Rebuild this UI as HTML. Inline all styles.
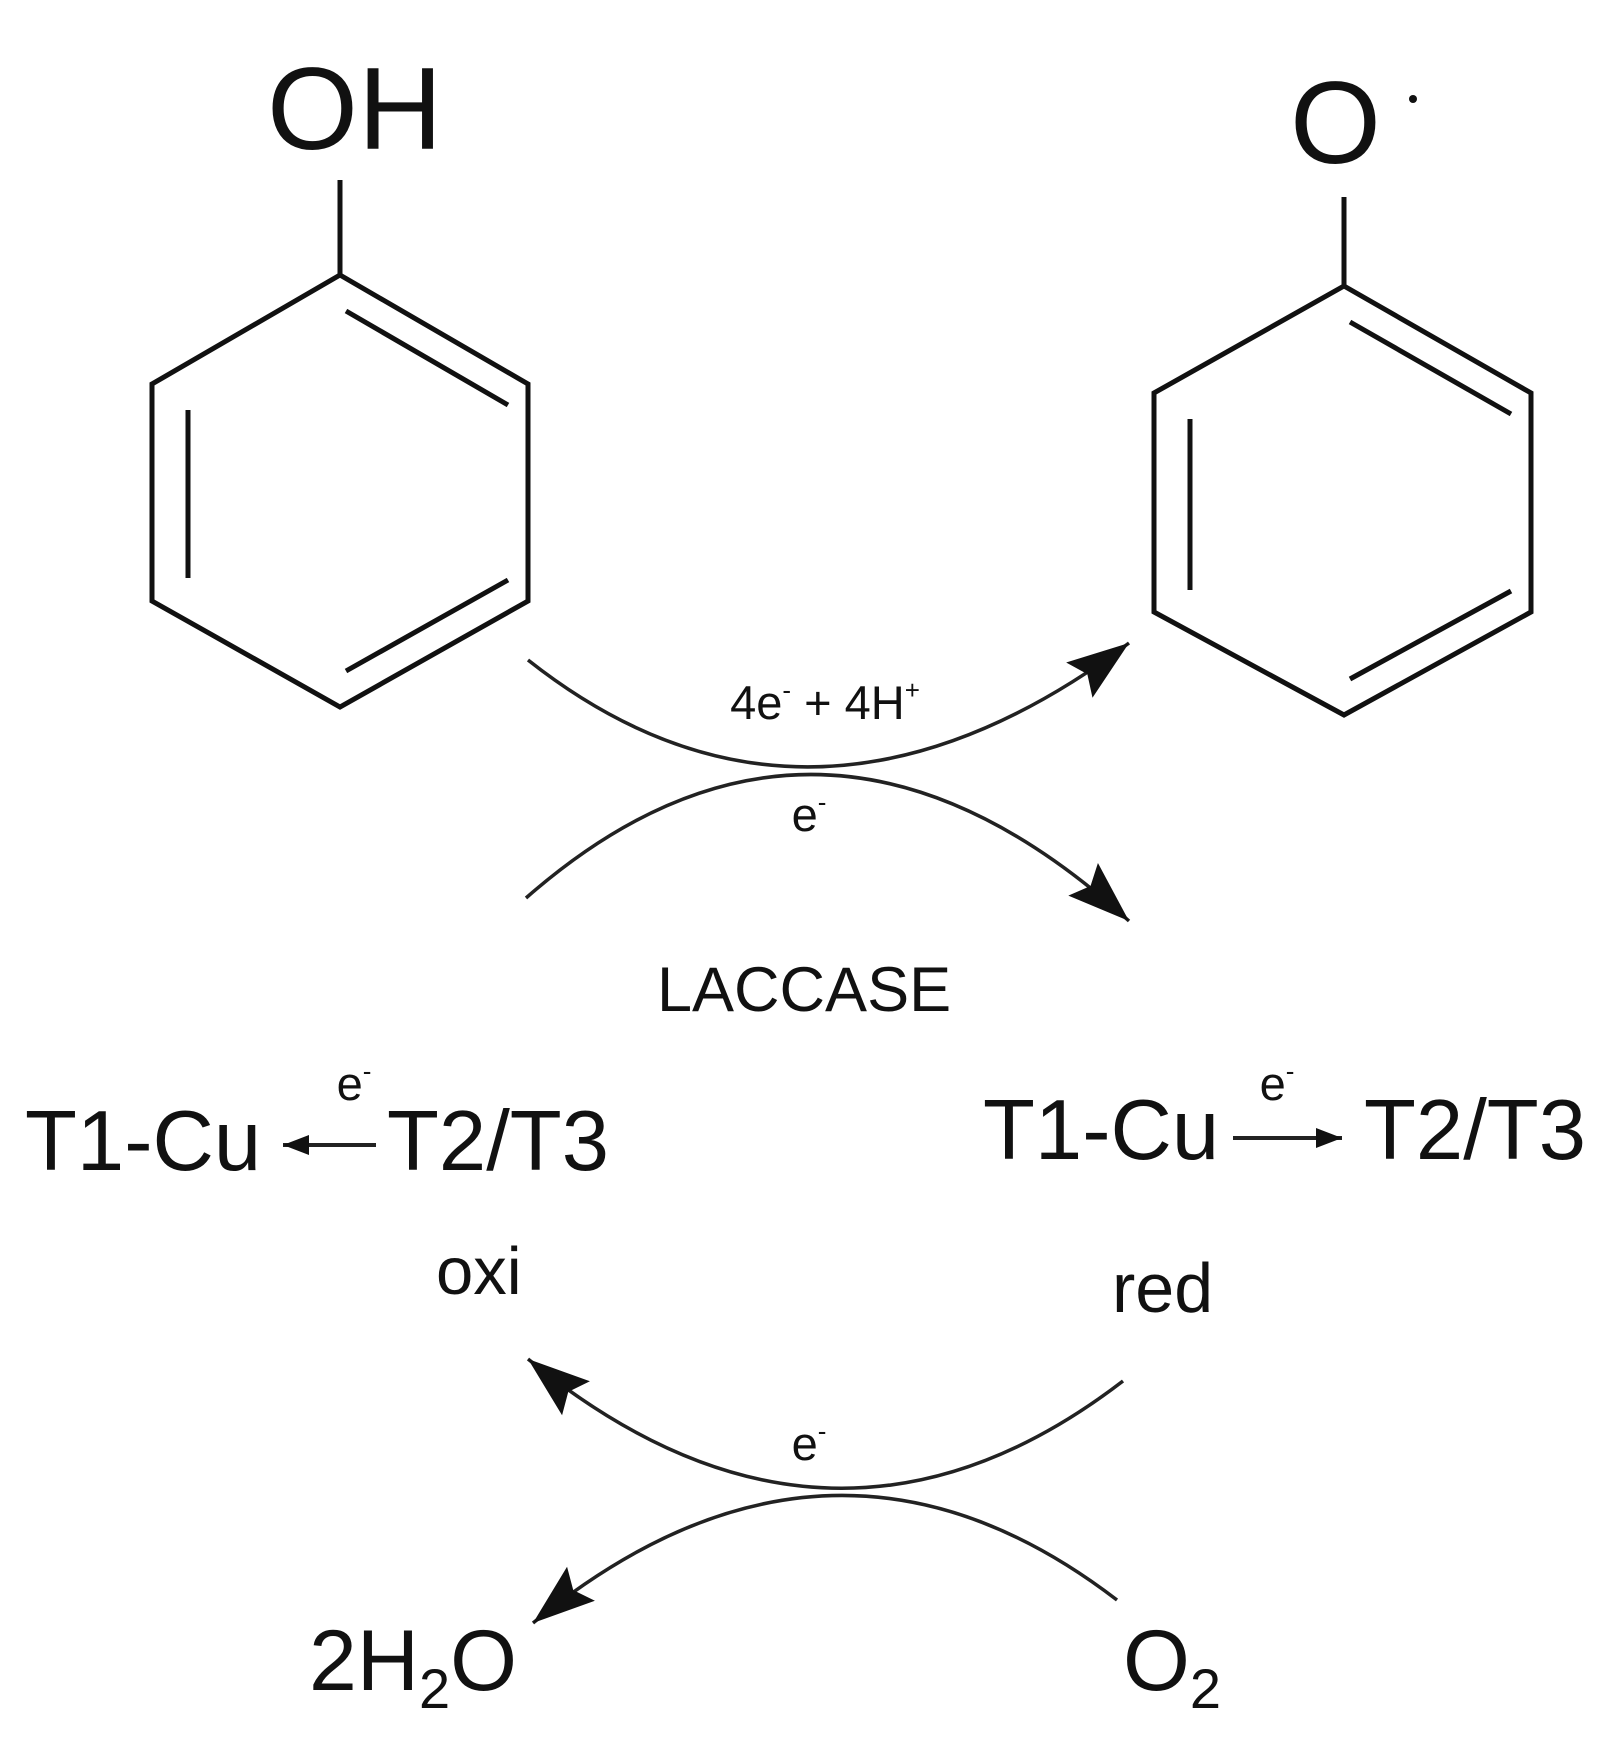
<!DOCTYPE html>
<html><head><meta charset="utf-8"><style>
html,body{margin:0;padding:0;background:#fff;}
svg{display:block;}
text{font-family:"Liberation Sans",Arial,sans-serif;fill:#111;}
</style></head><body>
<svg width="1617" height="1757" viewBox="0 0 1617 1757" xmlns="http://www.w3.org/2000/svg">
<defs>
<marker id="ah" markerUnits="userSpaceOnUse" markerWidth="80" markerHeight="60" refX="0" refY="0" viewBox="-70 -30 80 60" orient="auto">
<path d="M0,0 L-62,-22 L-52,0 L-62,22 Z" fill="#111"/>
</marker>
<marker id="sa" markerUnits="userSpaceOnUse" markerWidth="40" markerHeight="30" refX="0" refY="0" viewBox="-30 -15 40 30" orient="auto">
<path d="M0,0 L-26,-10 L-26,10 Z" fill="#111"/>
</marker>
</defs>
<g stroke="#111" stroke-width="5" fill="none" stroke-linejoin="miter">
<polygon points="340,275 528,384 528,601 340,707 152,601 152,384"/>
<line x1="340" y1="275" x2="340" y2="180"/>
<line x1="346" y1="311" x2="508" y2="405"/>
<line x1="188" y1="410" x2="188" y2="578"/>
<line x1="346" y1="671" x2="508" y2="580"/>
<polygon points="1344,286 1531,393 1531,612 1344,715 1154,612 1154,393"/>
<line x1="1344" y1="286" x2="1344" y2="197"/>
<line x1="1350" y1="322" x2="1511" y2="414"/>
<line x1="1190" y1="419" x2="1190" y2="590"/>
<line x1="1350" y1="679" x2="1511" y2="591"/>
</g>
<g stroke="#222" stroke-width="3.5" fill="none">
<path d="M528,660 Q809,882 1129,643" marker-end="url(#ah)"/>
<path d="M526,898 Q820,640 1129,921" marker-end="url(#ah)"/>
<path d="M1123,1381 Q830,1606 528,1359" marker-end="url(#ah)"/>
<path d="M1117,1600 Q830,1380 533,1623" marker-end="url(#ah)"/>
<line x1="376" y1="1145" x2="283" y2="1145" stroke-width="4" marker-end="url(#sa)"/>
<line x1="1233" y1="1138" x2="1342" y2="1138" stroke-width="4" marker-end="url(#sa)"/>
</g>
<text x="267" y="149" font-size="117">OH</text>
<text x="1290" y="163" font-size="117">O</text>
<circle cx="1413" cy="99" r="4" fill="#111"/>
<text x="825" y="719" font-size="47" text-anchor="middle">4e<tspan font-size="26" dy="-20">-</tspan><tspan dy="20"> + 4H</tspan><tspan font-size="26" dy="-20">+</tspan></text>
<text x="809" y="831" font-size="47" text-anchor="middle">e<tspan font-size="26" dy="-20">-</tspan></text>
<text x="657" y="1011" font-size="63">LACCASE</text>
<text x="25" y="1170" font-size="85">T1-Cu</text>
<text x="387" y="1170" font-size="85">T2/T3</text>
<text x="354" y="1100" font-size="47" text-anchor="middle">e<tspan font-size="26" dy="-20">-</tspan></text>
<text x="983" y="1159" font-size="85">T1-Cu</text>
<text x="1364" y="1159" font-size="85">T2/T3</text>
<text x="1277" y="1100" font-size="47" text-anchor="middle">e<tspan font-size="26" dy="-20">-</tspan></text>
<text x="436" y="1294" font-size="67">oxi</text>
<text x="1112" y="1312" font-size="70">red</text>
<text x="809" y="1460" font-size="47" text-anchor="middle">e<tspan font-size="26" dy="-20">-</tspan></text>
<text x="309" y="1690" font-size="86">2H<tspan font-size="56" dy="18">2</tspan><tspan dy="-18">O</tspan></text>
<text x="1123" y="1690" font-size="86">O<tspan font-size="56" dy="18">2</tspan></text>
</svg>
</body></html>
